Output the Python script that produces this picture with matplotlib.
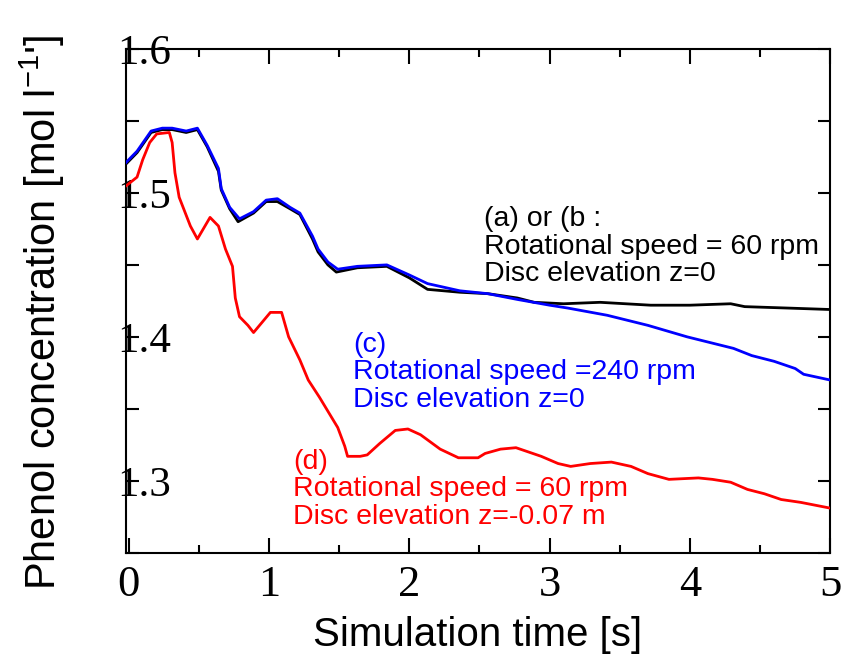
import matplotlib.pyplot as plt
from matplotlib.ticker import MultipleLocator

# (a) or (b): 60 rpm, disc at z=0
time_ab = [-0.03, 0.06, 0.16, 0.24, 0.31, 0.41, 0.49, 0.56, 0.64, 0.66, 0.72, 0.78,
           0.89, 0.98, 1.06, 1.15, 1.22, 1.31, 1.35, 1.42, 1.48, 1.63, 1.84, 2.0,
           2.13, 2.36, 2.56, 2.77, 2.89, 3.1, 3.36, 3.72, 4.0, 4.29, 4.39, 4.7, 5.0]
conc_ab = [1.519, 1.528, 1.542, 1.544, 1.544, 1.542, 1.544, 1.532, 1.515, 1.502, 1.489, 1.480,
           1.486, 1.494, 1.494, 1.489, 1.485, 1.468, 1.459, 1.450, 1.445, 1.448, 1.449, 1.441,
           1.433, 1.431, 1.430, 1.427, 1.424, 1.423, 1.424, 1.422, 1.422, 1.423, 1.421, 1.420, 1.419]

# (c): 240 rpm, disc at z=0
time_c = [-0.03, 0.06, 0.16, 0.24, 0.31, 0.41, 0.49, 0.56, 0.64, 0.66, 0.72, 0.79,
          0.89, 0.98, 1.06, 1.15, 1.22, 1.31, 1.35, 1.42, 1.49, 1.63, 1.84, 2.0,
          2.13, 2.36, 2.56, 2.77, 3.0, 3.13, 3.41, 3.7, 3.98, 4.31, 4.44, 4.6, 4.75, 4.81, 5.0]
conc_c = [1.520, 1.529, 1.543, 1.545, 1.545, 1.543, 1.545, 1.533, 1.517, 1.503, 1.490, 1.482,
          1.487, 1.495, 1.496, 1.490, 1.486, 1.470, 1.461, 1.452, 1.447, 1.449, 1.450, 1.443,
          1.437, 1.432, 1.430, 1.426, 1.422, 1.420, 1.415, 1.408, 1.400, 1.392, 1.387, 1.383,
          1.378, 1.374, 1.370]

# (d): 60 rpm, disc at z=-0.07 m
time_d = [-0.03, 0.06, 0.10, 0.15, 0.20, 0.29, 0.31, 0.33, 0.36, 0.44, 0.49, 0.58, 0.64,
          0.69, 0.74, 0.76, 0.79, 0.85, 0.89, 1.01, 1.09, 1.14, 1.22, 1.28, 1.36, 1.49,
          1.54, 1.56, 1.65, 1.70, 1.79, 1.90, 1.99, 2.08, 2.22, 2.35, 2.49, 2.54, 2.65,
          2.76, 2.94, 3.06, 3.15, 3.29, 3.44, 3.58, 3.70, 3.85, 4.06, 4.16, 4.29, 4.41,
          4.53, 4.65, 4.79, 5.0]
conc_d = [1.504, 1.511, 1.523, 1.535, 1.541, 1.542, 1.535, 1.514, 1.497, 1.477, 1.468, 1.483, 1.477,
          1.461, 1.449, 1.427, 1.414, 1.408, 1.403, 1.417, 1.417, 1.400, 1.384, 1.370, 1.358, 1.337,
          1.324, 1.317, 1.317, 1.318, 1.326, 1.335, 1.336, 1.332, 1.322, 1.316, 1.316, 1.319, 1.322,
          1.323, 1.317, 1.312, 1.310, 1.312, 1.313, 1.310, 1.305, 1.301, 1.302, 1.301, 1.299, 1.294,
          1.291, 1.287, 1.285, 1.281]

x_ticks = [0, 1, 2, 3, 4, 5]
x_labels = ['0', '1', '2', '3', '4', '5']
y_ticks = [1.3, 1.4, 1.5, 1.6]
y_labels = ['1.3', '1.4', '1.5', '1.6']

fig = plt.figure(figsize=(8.56, 6.62), dpi=100)
ax = fig.add_axes([0.147, 0.165, 0.823, 0.761])

# black first, blue over it, red on top
ax.plot(time_ab, conc_ab, color='black', lw=2.0, zorder=3)
ax.plot(time_c, conc_c, color='blue', lw=2.0, zorder=3)
ax.plot(time_d, conc_d, color='red', lw=2.0, zorder=3)

ax.set_xlim(-0.02, 5)
ax.set_ylim(1.25, 1.6)

ax.set_xticks(x_ticks)
ax.set_xticklabels(x_labels, fontfamily='Liberation Serif', fontsize=32)
ax.xaxis.set_minor_locator(MultipleLocator(0.5))
ax.set_yticks(y_ticks)
ax.set_yticklabels(y_labels, fontfamily='Liberation Serif', fontsize=31)
ax.yaxis.set_minor_locator(MultipleLocator(0.05))
for lab in ax.get_yticklabels():
    lab.set_ha('left')

for side in ax.spines.values():
    side.set_linewidth(1.5)
ax.tick_params(which='both', direction='in', top=True, right=True, width=1.5)
ax.tick_params(axis='x', which='major', length=11, pad=9)
ax.tick_params(axis='x', which='minor', length=5.5)
ax.tick_params(axis='y', which='both', length=9, pad=6)

# axis titles
fig.text(478 / 856, 1 - 635 / 662, 'Simulation time [s]', fontfamily='Liberation Sans',
         fontsize=29, ha='center', va='center')
fig.text(42 / 856, 1 - 312 / 662, "Phenol concentration [mol l$^{\\mathregular{-1}}$']",
         fontfamily='Liberation Sans', fontsize=30, rotation=90, ha='center', va='center')

# case annotations, one line at a time
ann = dict(fontfamily='Liberation Sans', fontsize=20.5, va='baseline', ha='left')
ax.text(2.53, 1.4770, '(a) or (b :', color='black', **ann)
ax.text(2.53, 1.4576, 'Rotational speed = 60 rpm', color='black', **ann)
ax.text(2.53, 1.4389, 'Disc elevation z=0', color='black', **ann)

ax.text(1.60, 1.3896, '(c)', color='blue', **ann)
ax.text(1.60, 1.3705, 'Rotational speed =240 rpm', color='blue', **ann)
ax.text(1.60, 1.3514, 'Disc elevation z=0', color='blue', **ann)

ax.text(1.17, 1.3083, '(d)', color='red', **ann)
ax.text(1.17, 1.2892, 'Rotational speed = 60 rpm', color='red', **ann)
ax.text(1.17, 1.2701, 'Disc elevation z=-0.07 m', color='red', **ann)

fig.savefig('out.png', dpi=100)
